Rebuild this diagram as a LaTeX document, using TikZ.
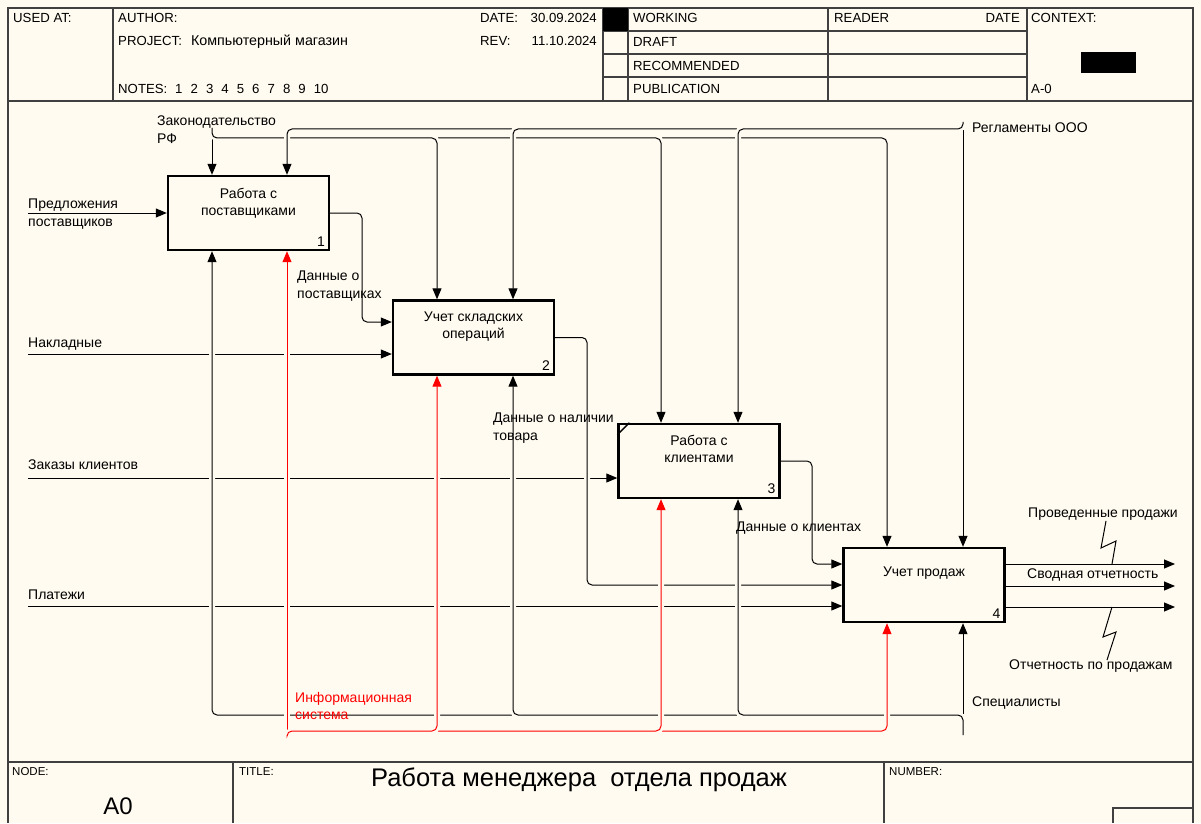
\documentclass[tikz,border=0pt]{standalone}
\usepackage{fontspec}
\setmainfont{Liberation Sans}
\usetikzlibrary{arrows.meta, positioning}
\definecolor{paper}{RGB}{255,251,240}

\begin{document}
\begin{tikzpicture}[x=1pt, y=-1pt, font=\fontsize{14}{17.5}\selectfont, >={Triangle[length=11pt,width=9pt]}]
    \tikzstyle{rule}=[draw=black!75, line width=1.3pt]
    \tikzstyle{hdr}=[inner sep=0pt, anchor=base west, font=\fontsize{13.2}{16}\selectfont]
    \tikzstyle{tiny}=[hdr, font=\fontsize{11.5}{12}\selectfont]
    \tikzstyle{func}=[draw=black, line width=2.4pt, minimum width=161pt, minimum height=74pt, inner sep=0pt]
    \tikzstyle{ftext}=[inner sep=0pt, align=center]
    \tikzstyle{idx}=[anchor=south east, inner sep=5pt]
    \tikzstyle{txt}=[inner sep=0pt, align=left, anchor=north west]
    \tikzstyle{flow}=[->, draw=black, line width=1pt, rounded corners=5pt, preaction={draw=paper, line width=6pt, -}]
    \tikzstyle{mech}=[flow, draw=red]
    \tikzstyle{squig}=[draw=black, line width=1pt]

    \fill[paper] (0,0) rectangle (1201,823);

    % form frame
    \draw[rule] (8,823) -- (8,8) -- (1193,8) -- (1193,823);
    \draw[rule] (8,101) -- (1193,101);
    \foreach \x in {113,603,628,828,1027}
        \draw[rule] (\x,8) -- (\x,101);
    \foreach \y in {31,54,77}
        \draw[rule] (603,\y) -- (1027,\y);
    \fill (603,8) rectangle (628,31);
    \fill (1081,52) rectangle (1136,73);
    \draw[rule] (8,762) -- (1193,762);
    \draw[rule] (233,762) -- (233,823);
    \draw[rule] (884,762) -- (884,823);
    \draw[rule] (1113,823) -- (1113,808) -- (1193,808);

    \node[hdr] (usedat) at (13,23) {USED AT:};
    \node[hdr] (author) at (118,23) {AUTHOR:};
    \node[hdr] (project) at (118,46) {PROJECT:\hspace{9pt}{\fontsize{14.3}{16}\selectfont Компьютерный магазин}};
    \node[hdr] (notes) at (118,94) {NOTES:};
    \foreach \n [count=\i from 0] in {1,...,10}
        \node[hdr] (note-\n) at (175+15.4*\i,94) {\n};
    \node[hdr] (date) at (480,23) {DATE:};
    \node[hdr, anchor=base east] (date-v) at (597,23) {30.09.2024};
    \node[hdr] (rev) at (480,46) {REV:};
    \node[hdr, anchor=base east] (rev-v) at (597,46) {11.10.2024};
    \foreach \t [count=\i from 0] in {WORKING,DRAFT,RECOMMENDED,PUBLICATION}
        \node[hdr] (st-\i) at (633,23+23.6*\i) {\t};
    \node[hdr] (reader) at (834,23) {READER};
    \node[hdr, anchor=base east] (rdate) at (1020,23) {DATE};
    \node[hdr] (context) at (1031,23) {CONTEXT:};
    \node[hdr] (ctx-id) at (1031,94) {A-0};

    \node[tiny] (node-l) at (12,775) {NODE:};
    \node[tiny] (title-l) at (239,775) {TITLE:};
    \node[tiny] (number-l) at (889,775) {NUMBER:};
    \node[font=\fontsize{24}{28}\selectfont] (node-id) at (118,806) {A0};
    \node[font=\fontsize{25.5}{28}\selectfont] (title) at (579,780) {Работа менеджера\ \ отдела продаж};

    % activity boxes
    \foreach \n/\x/\y in {1/248.5/213, 2/473.5/337.5, 3/699/461, 4/924/585}{
        \node[func] (F-\n) at (\x,\y) {};
    }

    \coordinate (law) at (212,128);
    \coordinate (regl) at (963,122);
    \coordinate (staff) at (963,735);
    \coordinate (it) at (287,735);
    \foreach \i/\y in {1/213, 2/354, 3/478, 4/606}
        \coordinate (in-\i) at (28,\y);
    \foreach \i/\y in {1/564, 2/586, 3/607}
        \coordinate (out-\i) at (1175,\y);

    % inputs
    \draw[flow] (in-1) -- (in-1 -| F-1.west);
    \draw[flow] (in-2) -- (in-2 -| F-2.west);
    \draw[flow] (in-3) -- (in-3 -| F-3.west);
    \draw[flow] (in-4) -- (in-4 -| F-4.west);

    \draw[flow] (F-1.east) -| (362,322) -- (F-2.west |- 0,322);
    \draw[flow] (F-2.east) -| (587,585) -- (F-4.west |- 0,585);
    \draw[flow] (F-3.east) -| (812,564) -- (F-4.west |- 0,564);

    % controls
    \draw[flow] (law) -- (law |- F-1.north);
    \draw[flow] (law) |- (887,138) -- (F-4.north -| 887,0);
    \foreach \x/\n in {437/2, 661/3}
        \draw[flow] (\x-8,138) -| (F-\n.north -| \x,0);
    \draw[flow] (regl) -- (regl |- F-4.north);
    \draw[flow] (regl) |- (287,129) -- (F-1.north -| 287,0);
    \foreach \x/\n in {513/2, 738/3}
        \draw[flow] (\x+8,129) -| (F-\n.north -| \x,0);

    % mechanisms
    \draw[flow] (staff) -- (staff |- F-4.south);
    \draw[flow] (staff) |- (212,715) -- (F-1.south -| 212,0);
    \foreach \x/\n in {513/2, 738/3}
        \draw[flow] (\x+8,715) -| (F-\n.south -| \x,0);
    \draw[mech] (it) -- (it |- F-1.south);
    \draw[mech] (it) |- (887,731) -- (F-4.south -| 887,0);
    \foreach \x/\n in {437/2, 661/3}
        \draw[mech] (\x-8,731) -| (F-\n.south -| \x,0);

    % outputs
    \foreach \i in {1,2,3}
        \draw[flow] (F-4.east |- out-\i) -- (out-\i);

    % boxes on top
    \foreach \n/\x/\y in {1/248.5/213, 2/473.5/337.5, 3/699/461, 4/924/585}{
        \node[func] at (F-\n) {};
        \node[idx] (N-\n) at (F-\n.south east) {\n};
    }
    \draw[line width=1.5pt] ([yshift=-12pt]F-3.north west) -- ([xshift=12pt]F-3.north west);
    \node[ftext, below=13pt of F-1.north] (T-1) {Работа с\\поставщиками};
    \node[ftext, below=12pt of F-2.north] (T-2) {Учет складских\\операций};
    \node[ftext, below=12pt of F-3.north] (T-3) {Работа с\\клиентами};
    \node[ftext, below=20pt of F-4.north] (T-4) {Учет продаж};

    % labels
    \node[txt] (L-law) at (157,116) {Законодательство\\РФ};
    \node[txt] (L-regl) at (972,123) {Регламенты ООО};
    \node[txt] (L-offer) at (28,199) {Предложения\\поставщиков};
    \node[txt] (L-invoice) at (28,338) {Накладные};
    \node[txt] (L-order) at (28,460) {Заказы клиентов};
    \node[txt] (L-pay) at (28,590) {Платежи};
    \node[txt] (L-supp) at (297,271) {Данные о\\поставщиках};
    \node[txt] (L-stock) at (493,413) {Данные о наличии\\товара};
    \node[txt] (L-client) at (736,522) {Данные о клиентах};
    \node[txt] (L-sold) at (1028,508) {Проведенные продажи};
    \node[txt] (L-sum) at (1027,569) {Сводная отчетность};
    \node[txt] (L-rep) at (1009,660) {Отчетность по продажам};
    \node[txt, text=red] (L-it) at (295,692) {Информационная\\система};
    \node[txt] (L-staff) at (972,697) {Специалисты};

    \coordinate (S-1) at (1112,564);
    \coordinate (S-2) at (1112,607);
    \draw[squig] (L-sold.south -| 1106,0) -- (1101,548) -- (1116,541) -- (S-1);
    \draw[squig] (S-2) -- (1103,637) -- (1116,632) -- (L-rep.north -| 1107,0);
\end{tikzpicture}
\end{document}
